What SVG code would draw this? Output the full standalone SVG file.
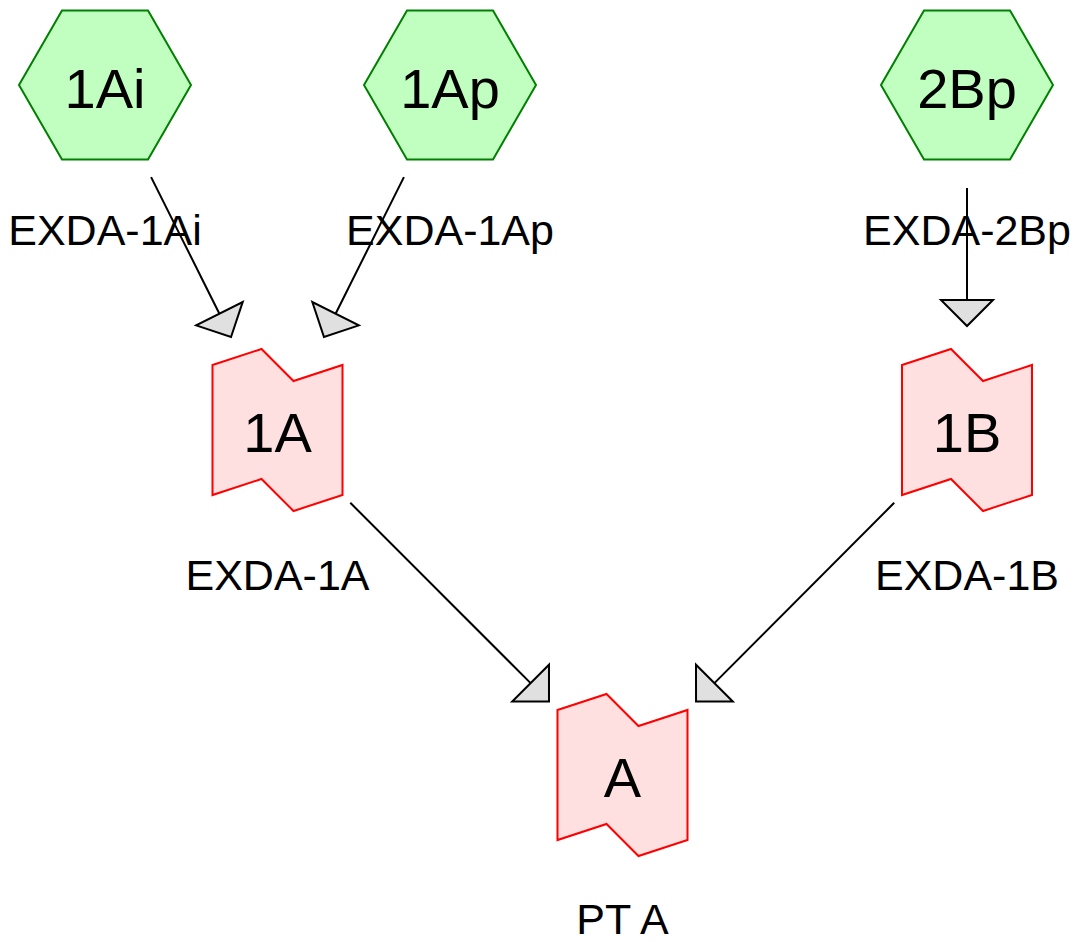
<svg xmlns="http://www.w3.org/2000/svg" width="1078" height="942" viewBox="0 0 1078 942">
<style>
.hex{fill:#c0ffc0;stroke:#008000;stroke-width:2}
.map{fill:#ffe0e0;stroke:#ff0000;stroke-width:2}
.nl{font-family:"Liberation Sans",Arial,sans-serif;font-size:56px;text-anchor:middle;fill:#000}
.lb{font-family:"Liberation Sans",Arial,sans-serif;font-size:43px;text-anchor:middle;fill:#000}
.edge{stroke:#000;stroke-width:2;fill:none;marker-end:url(#tri)}
</style>
<defs>
<marker id="tri" markerUnits="userSpaceOnUse" markerWidth="32" markerHeight="60" viewBox="-2 -30 32 60" refX="0" refY="0" orient="auto">
<path d="M0,-26 L26,0 L0,26 Z" fill="#e0e0e0" stroke="#000" stroke-width="2" stroke-linejoin="miter"/>
</marker>
<polygon id="hexshape" points="-86,0 -43,-74.5 43,-74.5 86,0 43,74.5 -43,74.5"/>
<path id="mapshape" d="M-65,-65 L-16,-81 L16,-49 L65,-65 L65,65 L16,81 L-16,49 L-65,65 Z"/>
</defs>
<rect width="1078" height="942" fill="#fff"/>
<g id="edges">
<line class="edge" x1="151.1" y1="177.1" x2="219.4" y2="313.7"/>
<line class="edge" x1="403.9" y1="177.1" x2="335.6" y2="313.7"/>
<line class="edge" x1="967" y1="188" x2="967" y2="300"/>
<line class="edge" x1="350.3" y1="502.8" x2="530.6" y2="683.1"/>
<line class="edge" x1="894.2" y1="502.8" x2="714.4" y2="683.1"/>
</g>
<g id="n1Ai" transform="translate(105,85)">
<use href="#hexshape" class="hex"/>
<text class="nl" x="0" y="22.5">1Ai</text>
<text class="lb" x="0" y="160">EXDA-1Ai</text>
</g>
<g id="n1Ap" transform="translate(450,85)">
<use href="#hexshape" class="hex"/>
<text class="nl" x="0" y="22.5">1Ap</text>
<text class="lb" x="0" y="160">EXDA-1Ap</text>
</g>
<g id="n2Bp" transform="translate(967,85)">
<use href="#hexshape" class="hex"/>
<text class="nl" x="0" y="22.5">2Bp</text>
<text class="lb" x="0" y="160">EXDA-2Bp</text>
</g>
<g id="n1A" transform="translate(277.5,430)">
<use href="#mapshape" class="map"/>
<text class="nl" x="0" y="22">1A</text>
<text class="lb" x="0" y="160">EXDA-1A</text>
</g>
<g id="n1B" transform="translate(967,430)">
<use href="#mapshape" class="map"/>
<text class="nl" x="0" y="22">1B</text>
<text class="lb" x="0" y="160">EXDA-1B</text>
</g>
<g id="nA" transform="translate(622.5,775)">
<use href="#mapshape" class="map"/>
<text class="nl" x="0" y="22">A</text>
<text class="lb" x="0" y="159">PT A</text>
</g>
</svg>
